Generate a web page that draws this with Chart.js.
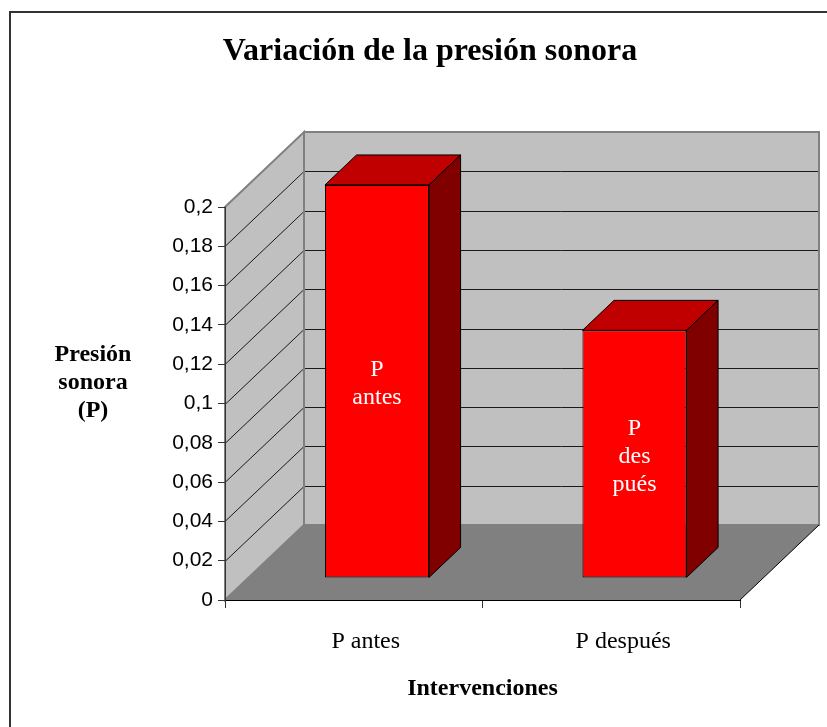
<!DOCTYPE html>
<html>
<head>
<meta charset="utf-8">
<style>
  html, body { margin: 0; padding: 0; background: #fff; }
  canvas { display: block; }
</style>
<script src="https://cdn.jsdelivr.net/npm/chart.js@4.4.1/dist/chart.umd.min.js"></script>
</head>
<body>
<canvas id="chart" width="827" height="727"></canvas>
<script>
const categories = ['P antes', 'P después'];
const values = [0.2, 0.126];
const barText = [['P', 'antes'], ['P', 'des', 'pués']];
const yTitle = ['Presión', 'sonora', '(P)'];
const chartTitle = 'Variación de la presión sonora';
const xTitle = 'Intervenciones';

const SERIF = "'Liberation Serif', 'Times New Roman', serif";
const SANS = "'Liberation Sans', Arial, sans-serif";
const DEPTH = { x: 79, y: -75 };   // floor / wall depth in px
const BAR_FRONT = 0.294;           // where the bar front sits in the depth
const BAR_DEPTH = 0.4;             // bar thickness as part of the depth
const fx = BAR_FRONT * DEPTH.x, fy = BAR_FRONT * DEPTH.y;
const bx = BAR_DEPTH * DEPTH.x, by = BAR_DEPTH * DEPTH.y;

function fmt(v) { return String(Number(v.toFixed(2))).replace('.', ','); }

function path(ctx, pts) {
  ctx.beginPath();
  pts.forEach(([x, y], i) => (i ? ctx.lineTo(x, y) : ctx.moveTo(x, y)));
  ctx.closePath();
}

const frame = {
  id: 'frame',
  beforeDraw(chart) {
    const { ctx, chartArea: a, scales: { y } } = chart;
    const dx = DEPTH.x, dy = DEPTH.y;
    ctx.save();

    // outer border (only top and left are inside the picture)
    ctx.strokeStyle = '#333';
    ctx.lineWidth = 2;
    ctx.beginPath();
    ctx.moveTo(10, chart.height); ctx.lineTo(10, 12); ctx.lineTo(chart.width, 12);
    ctx.stroke();

    // title
    ctx.font = `bold 32px ${SERIF}`;
    ctx.fillStyle = '#000';
    ctx.textAlign = 'center';
    ctx.textBaseline = 'alphabetic';
    ctx.fillText(chartTitle, 430, 60);

    // y axis title, horizontal, three lines
    ctx.font = `bold 24px ${SERIF}`;
    yTitle.forEach((t, i) => ctx.fillText(t, 93, 361 + i * 28));

    const leftWall = [[a.left, a.top], [a.left + dx, a.top + dy], [a.left + dx, a.bottom + dy], [a.left, a.bottom]];
    const backWall = [[a.left + dx, a.top + dy], [a.right + dx, a.top + dy], [a.right + dx, a.bottom + dy], [a.left + dx, a.bottom + dy]];
    const floor = [[a.left, a.bottom], [a.left + dx, a.bottom + dy], [a.right + dx, a.bottom + dy], [a.right, a.bottom]];

    ctx.fillStyle = '#c0c0c0';
    path(ctx, leftWall); ctx.fill();
    path(ctx, backWall); ctx.fill();

    // grid lines on the walls
    ctx.strokeStyle = '#1a1a1a';
    ctx.lineWidth = 1;
    y.ticks.forEach((t) => {
      if (t.value <= y.min || t.value >= y.max) return;
      const py = Math.round(y.getPixelForValue(t.value)) + 0.5;
      ctx.beginPath();
      ctx.moveTo(a.left, py);
      ctx.lineTo(a.left + dx, py + dy);
      ctx.lineTo(a.right + dx, py + dy);
      ctx.stroke();
    });

    ctx.strokeStyle = '#808080';
    ctx.lineWidth = 2;
    path(ctx, leftWall); ctx.stroke();
    path(ctx, backWall); ctx.stroke();

    ctx.fillStyle = '#808080';
    path(ctx, floor); ctx.fill();

    ctx.strokeStyle = '#000';
    ctx.lineWidth = 1;
    ctx.beginPath();
    ctx.moveTo(a.right, a.bottom);
    ctx.lineTo(a.right + dx, a.bottom + dy);
    ctx.stroke();

    ctx.restore();
  },
  beforeDatasetsDraw(chart) {
    chart.ctx.save();
    chart.ctx.translate(fx, fy);
  },
  afterDatasetsDraw(chart) {
    const ctx = chart.ctx;
    ctx.restore();
    ctx.save();
    ctx.strokeStyle = '#000';
    ctx.lineWidth = 1;
    chart.getDatasetMeta(0).data.forEach((bar, i) => {
      const p = bar.getProps(['x', 'y', 'base', 'width'], true);
      const x1 = p.x - p.width / 2 + fx, x2 = p.x + p.width / 2 + fx;
      const yt = p.y + fy, yb = p.base + fy;
      ctx.fillStyle = '#c00000';
      path(ctx, [[x1, yt], [x1 + bx, yt + by], [x2 + bx, yt + by], [x2, yt]]);
      ctx.fill(); ctx.stroke();
      ctx.fillStyle = '#800000';
      path(ctx, [[x2, yt], [x2 + bx, yt + by], [x2 + bx, yb + by], [x2, yb]]);
      ctx.fill(); ctx.stroke();

      // label inside the front face
      const lines = barText[i];
      const lh = 28;
      const cy = (yt + yb) / 2 + 3 - (lines.length - 1) * lh / 2;
      ctx.fillStyle = '#fff';
      ctx.font = `24px ${SERIF}`;
      ctx.textAlign = 'center';
      ctx.textBaseline = 'middle';
      lines.forEach((t, k) => ctx.fillText(t, p.x + fx, cy + k * lh));
    });
    ctx.restore();
  }
};

new Chart(document.getElementById('chart'), {
  type: 'bar',
  data: {
    labels: categories,
    datasets: [{
      data: values,
      backgroundColor: '#ff0000',
      borderColor: '#000',
      borderWidth: 1,
      borderSkipped: false,
      categoryPercentage: 1,
      barPercentage: 0.404,
      clip: false,
    }],
  },
  options: {
    responsive: false,
    animation: false,
    devicePixelRatio: 1,
    layout: { padding: { left: 165, right: 87, top: 207, bottom: 17 } },
    plugins: { legend: { display: false }, title: { display: false }, tooltip: { enabled: false } },
    scales: {
      x: {
        ticks: { font: { family: SERIF, size: 24 }, color: '#000', padding: 19, labelOffset: 12 },
        grid: { drawOnChartArea: false, offset: true, tickLength: 8, color: '#333', tickColor: '#333' },
        border: { color: '#000', width: 1 },
        title: {
          display: true, text: xTitle, color: '#000',
          font: { family: SERIF, size: 24, weight: 'bold' },
          padding: { top: 0, bottom: 6.6 },
        },
        afterFit(s) { s.height = 110; },
      },
      y: {
        min: 0,
        max: 0.2,
        ticks: { stepSize: 0.02, callback: fmt, font: { family: SANS, size: 21 }, color: '#000', padding: 5 },
        grid: { drawOnChartArea: false, tickLength: 7, color: '#333', tickColor: '#333' },
        border: { color: '#333', width: 1 },
        afterFit(s) { s.width = 60; },
      },
    },
  },
  plugins: [frame],
});
</script>
</body>
</html>
